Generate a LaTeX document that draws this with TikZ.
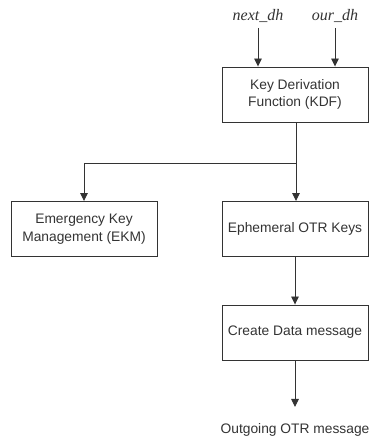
\documentclass[tikz,border=0pt]{standalone}
\usepackage{fontspec}
\setmainfont{Liberation Sans}
\newfontfamily\serifit{Liberation Serif}
\usetikzlibrary{arrows.meta}
\definecolor{ink}{HTML}{333333}
\tikzset{
  box/.style={draw=ink, line width=0.9pt, minimum width=146pt, minimum height=55pt,
    inner sep=0pt, align=center, text=ink, font=\fontsize{13.8}{17.5}\selectfont},
  lbl/.style={inner sep=0pt, text=ink, font=\fontsize{13.8}{17.5}\selectfont},
  inlbl/.style={inner sep=0pt, text=ink, font=\serifit\itshape\fontsize{16}{18}\selectfont},
  arr/.style={draw=ink, line width=0.9pt, -{Triangle[length=8pt,width=7.5pt]}},
  ln/.style={draw=ink, line width=0.9pt}
}
\begin{document}
\begin{tikzpicture}[x=1pt,y=1pt]
\useasboundingbox (0,0) rectangle (370,438);
\node[inlbl] (nd) at (258,422) {next\_dh};
\node[inlbl] (od) at (335,422) {our\_dh};
\node[box] (kdf) at (295,343.5) {Key Derivation\\Function (KDF)};
\node[box] (ekm) at (84,209) {Emergency Key\\Management (EKM)};
\node[box] (eph) at (295,209) {Ephemeral OTR Keys};
\node[box] (cdm) at (295,105.5) {Create Data message};
\node[lbl] (out) at (295,8) {Outgoing OTR message};
\coordinate (jr) at (296,275);
\coordinate (jl) at (84,275);
\coordinate (oute) at (295,31);
\draw[arr] (258,410) -- (nd.south |- kdf.north);
\draw[arr] (335,410) -- (od.south |- kdf.north);
\draw[ln] (jr |- kdf.south) -- (jr);
\draw[ln] (jr) -- (jl);
\draw[arr] (jl) -- (ekm.north);
\draw[arr] (jr) -- (jr |- eph.north);
\draw[arr] (eph.south) -- (cdm.north);
\draw[arr] (cdm.south) -- (oute);
\end{tikzpicture}
\end{document}
